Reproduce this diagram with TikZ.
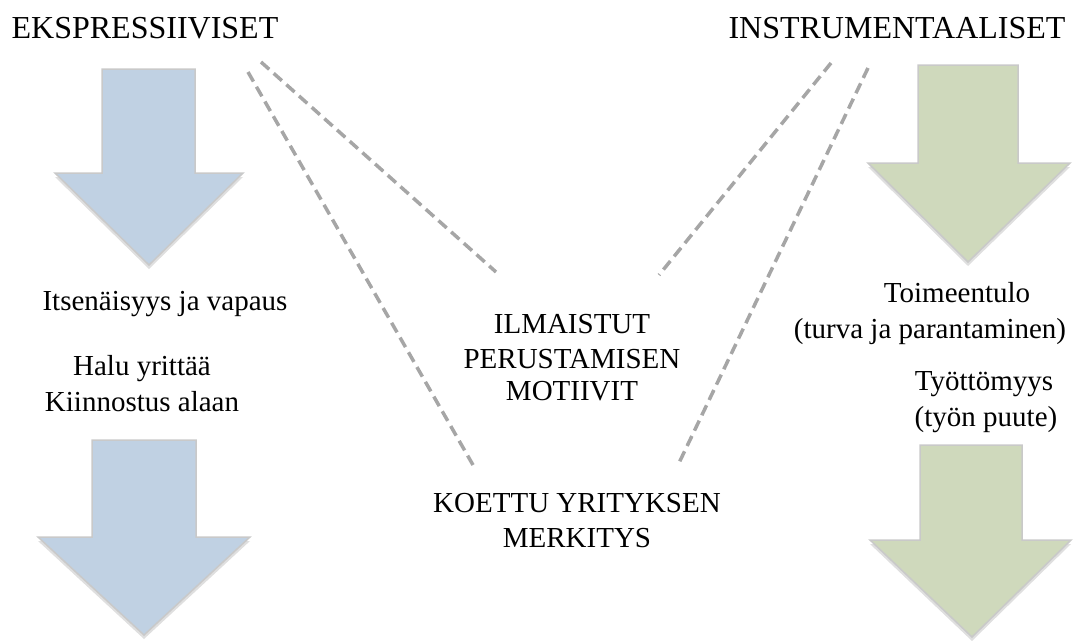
\documentclass[tikz,border=0pt]{standalone}
\usepackage{fontspec}
\setmainfont{Liberation Serif}
\usetikzlibrary{shadows}
\definecolor{arrblue}{HTML}{C0D1E3}
\definecolor{arrgreen}{HTML}{CFD9BC}
\definecolor{arredge}{HTML}{C9C9C9}
\definecolor{dashgray}{HTML}{A6A6A6}
\begin{document}
\begin{tikzpicture}[x=1pt,y=-1pt,
  bigarrow/.style={draw=arredge, line width=1.5pt, line join=miter,
    drop shadow={shadow xshift=0pt, shadow yshift=-4pt, opacity=0.25}},
  txt/.style={anchor=base, inner sep=0pt, font=\fontsize{29}{34}\selectfont},
  headtxt/.style={anchor=base, inner sep=0pt, font=\fontsize{32}{38}\selectfont},
  link/.style={draw=dashgray, line width=3.5pt, dash pattern=on 11pt off 6pt}]
\useasboundingbox (0,0) rectangle (1073,640);

% block arrows
\path[bigarrow, fill=arrblue] (102,69) -- (195,69) -- (195,173) -- (243,173) -- (149,265) -- (55,173) -- (102,173) -- cycle;
\path[bigarrow, fill=arrblue] (92,440) -- (196,440) -- (196,537) -- (250,537) -- (144,635) -- (38,537) -- (92,537) -- cycle;
\path[bigarrow, fill=arrgreen] (918,65) -- (1018,65) -- (1018,163) -- (1070,163) -- (968,262) -- (868,163) -- (918,163) -- cycle;
\path[bigarrow, fill=arrgreen] (920,445) -- (1022,445) -- (1022,540) -- (1071,540) -- (972,637) -- (870,540) -- (920,540) -- cycle;

% headings
\node[headtxt] (eks) at (145,38) {EKSPRESSIIVISET};
\node[headtxt] (ins) at (897,38) {INSTRUMENTAALISET};

% left texts
\node[txt] (its) at (165,310) {Itsenäisyys ja vapaus};
\node[txt] (halu) at (142,375) {Halu yrittää};
\node[txt] (kiin) at (142,411) {Kiinnostus alaan};

% centre texts
\node[txt] (ilm1) at (572,333) {ILMAISTUT};
\node[txt] (ilm2) at (572,368) {PERUSTAMISEN};
\node[txt] (ilm3) at (572,400) {MOTIIVIT};
\node[txt] (koe1) at (577,512) {KOETTU YRITYKSEN};
\node[txt] (koe2) at (577,547) {MERKITYS};

% right texts
\node[txt] (toim) at (957,302) {Toimeentulo};
\node[txt] (turva) at (930,338) {(turva ja parantaminen)};
\node[txt] (tyot) at (984,390) {Työttömyys};
\node[txt] (puute) at (986,426) {(työn puute)};

% dashed links
\coordinate (a1) at (261,62);  \coordinate (a2) at (496,272);
\coordinate (b1) at (248,72);  \coordinate (b2) at (473,465);
\coordinate (c1) at (831,63);  \coordinate (c2) at (659,275);
\coordinate (d1) at (868,68);  \coordinate (d2) at (678,465);
\draw[link] (a1) -- (a2);
\draw[link] (b1) -- (b2);
\draw[link] (c1) -- (c2);
\draw[link] (d1) -- (d2);
\end{tikzpicture}
\end{document}
